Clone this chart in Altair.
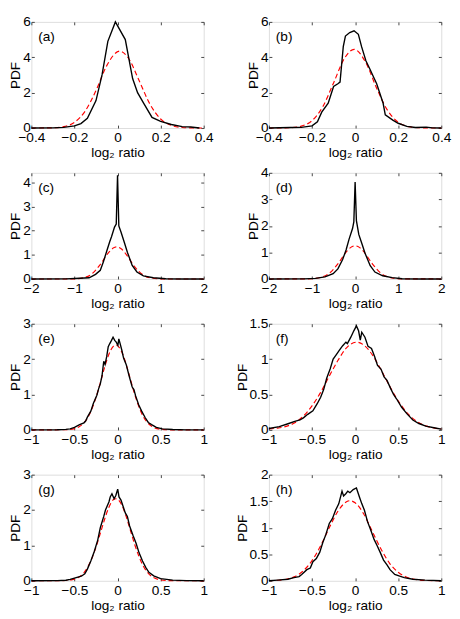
import altair as alt
import pandas as pd

FONT = "Liberation Sans"
W, H = 177, 109

# ---------------- data ----------------
tags = ["(a)", "(b)", "(c)", "(d)", "(e)", "(f)", "(g)", "(h)"]

a_bx = [-0.4, -0.3, -0.25, -0.2, -0.17, -0.14, -0.1, -0.072, -0.045, -0.01, 0.036, 0.07, 0.093, 0.123, 0.16, 0.2, 0.25, 0.3, 0.34, 0.38]
a_by = [0, 0.01, 0.04, 0.12, 0.25, 0.55, 1.55, 3.0, 4.9, 6.0, 5.0, 2.8, 2.0, 1.37, 0.6, 0.38, 0.2, 0.08, 0.06, 0.0]
a_rx = [-0.4, -0.3, -0.25, -0.2, -0.15, -0.1, -0.05, 0.01, 0.05, 0.1, 0.15, 0.2, 0.25, 0.3, 0.35, 0.4]
a_ry = [0, 0.015, 0.08, 0.32, 0.96, 2.12, 3.53, 4.35, 3.96, 2.69, 1.36, 0.51, 0.145, 0.03, 0.005, 0]

b_bx = [-0.4, -0.3, -0.25, -0.2, -0.175, -0.155, -0.125, -0.1, -0.08, -0.07, -0.055, -0.045, -0.025, -0.005, 0.015, 0.03, 0.05, 0.07, 0.1, 0.13, 0.14, 0.175, 0.2, 0.24, 0.28, 0.33, 0.36, 0.4]
b_by = [0, 0.03, 0.04, 0.12, 0.35, 0.9, 1.4, 2.35, 2.5, 2.6, 4.6, 5.2, 5.4, 5.5, 5.3, 4.6, 3.8, 3.3, 2.5, 1.4, 0.75, 0.45, 0.27, 0.09, 0.03, 0.05, 0.01, 0]
b_rx = [-0.4, -0.3, -0.25, -0.2, -0.15, -0.1, -0.05, -0.005, 0.05, 0.1, 0.15, 0.2, 0.25, 0.3, 0.4]
b_ry = [0, 0.02, 0.11, 0.42, 1.21, 2.55, 3.93, 4.45, 3.69, 2.25, 1.01, 0.33, 0.08, 0.015, 0]

c_bx = [-2, -1.2, -0.88, -0.66, -0.51, -0.4, -0.33, -0.25, -0.18, -0.14, -0.07, -0.03, 0, 0.03, 0.08, 0.16, 0.23, 0.34, 0.45, 0.6, 0.83, 1.12, 1.5, 2]
c_by = [0, 0.005, 0.03, 0.05, 0.19, 0.36, 0.7, 1.16, 1.55, 1.75, 2.15, 2.28, 4.3, 2.2, 1.95, 1.5, 1.1, 0.56, 0.29, 0.13, 0.05, 0.01, 0.0, 0]
c_rx = [-2, -1.2, -1.0, -0.8, -0.6, -0.4, -0.2, -0.1, -0.02, 0.1, 0.2, 0.4, 0.6, 0.8, 1.0, 1.2, 2]
c_ry = [0, 0.0, 0.006, 0.045, 0.205, 0.6, 1.11, 1.28, 1.33, 1.23, 1.02, 0.5, 0.157, 0.032, 0.004, 0, 0]

d_bx = [-2, -1.2, -0.92, -0.7, -0.51, -0.4, -0.29, -0.21, -0.14, -0.06, -0.03, 0, 0.03, 0.085, 0.16, 0.23, 0.35, 0.46, 0.64, 0.86, 1.09, 1.5, 2]
d_by = [0, 0.005, 0.02, 0.08, 0.2, 0.38, 0.73, 1.09, 1.5, 1.9, 2.15, 3.65, 2.2, 1.68, 1.32, 0.97, 0.5, 0.26, 0.12, 0.05, 0.01, 0, 0]
d_rx = [-2, -1.2, -1.0, -0.8, -0.6, -0.4, -0.2, -0.1, 0, 0.1, 0.2, 0.4, 0.6, 0.8, 1.0, 1.2, 2]
d_ry = [0, 0.001, 0.01, 0.055, 0.215, 0.57, 1.03, 1.19, 1.25, 1.19, 1.03, 0.57, 0.215, 0.055, 0.01, 0.001, 0]

e_bx = [-1, -0.7, -0.6, -0.55, -0.5, -0.44, -0.39, -0.37, -0.35, -0.31, -0.28, -0.24, -0.22, -0.2, -0.18, -0.16, -0.145, -0.126, -0.108, -0.09, -0.07, -0.052, -0.033, -0.015, 0.004, 0.015, 0.03, 0.05, 0.07, 0.1, 0.134, 0.17, 0.19, 0.21, 0.245, 0.28, 0.32, 0.357, 0.395, 0.45, 0.52, 0.64, 0.8, 1]
e_by = [0, 0.005, 0.015, 0.03, 0.07, 0.15, 0.2, 0.25, 0.36, 0.53, 0.75, 0.98, 1.16, 1.3, 1.53, 1.94, 1.85, 2.07, 2.35, 2.44, 2.53, 2.62, 2.53, 2.48, 2.39, 2.57, 2.44, 2.25, 2.03, 1.85, 1.53, 1.21, 1.14, 0.96, 0.71, 0.53, 0.35, 0.21, 0.15, 0.07, 0.03, 0.01, 0.0, 0]
e_rx = [-1, -0.6, -0.5, -0.45, -0.4, -0.35, -0.3, -0.25, -0.2, -0.15, -0.1, -0.05, -0.02, 0.05, 0.1, 0.15, 0.2, 0.25, 0.3, 0.35, 0.4, 0.5, 0.6, 1]
e_ry = [0, 0.005, 0.037, 0.084, 0.175, 0.33, 0.58, 0.92, 1.33, 1.77, 2.14, 2.36, 2.4, 2.2, 1.85, 1.42, 1.0, 0.64, 0.37, 0.2, 0.098, 0.018, 0.002, 0]

f_bx = [-1, -0.88, -0.77, -0.7, -0.64, -0.6, -0.55, -0.49, -0.44, -0.4, -0.365, -0.33, -0.29, -0.255, -0.22, -0.18, -0.144, -0.107, -0.09, -0.05, -0.015, 0.015, 0.04, 0.06, 0.077, 0.114, 0.15, 0.19, 0.225, 0.26, 0.3, 0.336, 0.37, 0.41, 0.446, 0.48, 0.54, 0.6, 0.67, 0.74, 0.82, 0.93, 1.0]
f_by = [0.02, 0.045, 0.09, 0.12, 0.14, 0.17, 0.22, 0.27, 0.37, 0.46, 0.57, 0.73, 0.86, 1.0, 1.06, 1.13, 1.19, 1.24, 1.22, 1.31, 1.40, 1.47, 1.4, 1.27, 1.38, 1.31, 1.18, 1.15, 1.04, 0.91, 0.86, 0.75, 0.7, 0.59, 0.5, 0.44, 0.32, 0.23, 0.14, 0.09, 0.054, 0.027, 0.01]
f_rx = [-1, -0.9, -0.8, -0.7, -0.6, -0.5, -0.4, -0.3, -0.2, -0.1, 0.02, 0.1, 0.2, 0.3, 0.4, 0.5, 0.6, 0.7, 0.8, 0.9, 1.0]
f_ry = [0.015, 0.025, 0.05, 0.1, 0.195, 0.34, 0.53, 0.76, 0.98, 1.16, 1.24, 1.2, 1.06, 0.85, 0.62, 0.41, 0.245, 0.134, 0.066, 0.03, 0.012]

g_bx = [-1, -0.7, -0.6, -0.55, -0.48, -0.42, -0.38, -0.35, -0.31, -0.27, -0.23, -0.2, -0.16, -0.14, -0.1, -0.085, -0.065, -0.04, -0.02, 0.002, 0.017, 0.04, 0.065, 0.09, 0.114, 0.14, 0.18, 0.215, 0.25, 0.29, 0.327, 0.364, 0.42, 0.5, 0.57, 0.64, 0.8, 1]
g_by = [0, 0.005, 0.015, 0.04, 0.09, 0.13, 0.2, 0.33, 0.56, 0.83, 1.15, 1.5, 1.82, 2.0, 2.23, 2.37, 2.46, 2.32, 2.41, 2.59, 2.37, 2.28, 2.1, 1.92, 1.82, 1.55, 1.28, 1.06, 0.79, 0.56, 0.38, 0.24, 0.14, 0.06, 0.04, 0.02, 0.005, 0]
g_rx = [-1, -0.6, -0.5, -0.45, -0.4, -0.35, -0.3, -0.25, -0.2, -0.15, -0.1, -0.05, -0.02, 0.05, 0.1, 0.15, 0.2, 0.25, 0.3, 0.35, 0.4, 0.5, 0.6, 1]
g_ry = [0, 0.008, 0.047, 0.1, 0.2, 0.37, 0.62, 0.95, 1.34, 1.74, 2.08, 2.29, 2.32, 2.14, 1.82, 1.42, 1.02, 0.68, 0.41, 0.23, 0.118, 0.024, 0.004, 0]

h_bx = [-1, -0.9, -0.78, -0.71, -0.65, -0.62, -0.56, -0.52, -0.49, -0.45, -0.41, -0.375, -0.34, -0.3, -0.264, -0.227, -0.19, -0.152, -0.134, -0.108, -0.085, -0.06, -0.022, 0.015, 0.052, 0.078, 0.108, 0.145, 0.18, 0.22, 0.256, 0.29, 0.33, 0.37, 0.405, 0.46, 0.517, 0.57, 0.67, 0.81, 1]
h_by = [0, 0.012, 0.03, 0.06, 0.08, 0.12, 0.21, 0.24, 0.36, 0.42, 0.54, 0.72, 0.87, 1.08, 1.17, 1.33, 1.45, 1.69, 1.6, 1.64, 1.69, 1.66, 1.72, 1.75, 1.57, 1.45, 1.33, 1.11, 0.96, 0.78, 0.66, 0.54, 0.39, 0.3, 0.21, 0.12, 0.09, 0.06, 0.03, 0.012, 0]
h_rx = [-1, -0.9, -0.8, -0.7, -0.6, -0.5, -0.4, -0.3, -0.2, -0.1, -0.06, 0, 0.1, 0.2, 0.3, 0.4, 0.5, 0.6, 0.7, 0.8, 1]
h_ry = [0.003, 0.01, 0.03, 0.08, 0.19, 0.38, 0.66, 1.0, 1.31, 1.49, 1.51, 1.47, 1.26, 0.93, 0.6, 0.33, 0.16, 0.066, 0.024, 0.008, 0.001]

x_domains = [[-0.4, 0.4], [-0.4, 0.4], [-2, 2], [-2, 2], [-1, 1], [-1, 1], [-1, 1], [-1, 1]]
x_ticks = [[-0.4, -0.2, 0, 0.2, 0.4], [-0.4, -0.2, 0, 0.2, 0.4],
           [-2, -1, 0, 1, 2], [-2, -1, 0, 1, 2],
           [-1, -0.5, 0, 0.5, 1], [-1, -0.5, 0, 0.5, 1],
           [-1, -0.5, 0, 0.5, 1], [-1, -0.5, 0, 0.5, 1]]
y_domains = [[0, 6], [0, 6], [0, 4.4], [0, 4], [0, 3], [0, 1.5], [0, 3], [0, 2]]
y_ticks = [[0, 2, 4, 6], [0, 2, 4, 6], [0, 1, 2, 3, 4], [0, 1, 2, 3, 4],
           [0, 1, 2, 3], [0, 0.5, 1, 1.5], [0, 1, 2, 3], [0, 0.5, 1, 1.5, 2]]

black_x = [a_bx, b_bx, c_bx, d_bx, e_bx, f_bx, g_bx, h_bx]
black_y = [a_by, b_by, c_by, d_by, e_by, f_by, g_by, h_by]
red_x = [a_rx, b_rx, c_rx, d_rx, e_rx, f_rx, g_rx, h_rx]
red_y = [a_ry, b_ry, c_ry, d_ry, e_ry, f_ry, g_ry, h_ry]

TICK_COLOR = "#444444"


def outer_axis(orient, values, title, label_pad, title_pad):
    return alt.Axis(
        orient=orient, values=values, title=title, format="~g",
        domain=False, grid=False, ticks=True, tickSize=3, offset=-3,
        tickColor=TICK_COLOR, tickWidth=1,
        labelFont=FONT, labelFontSize=14, labelColor="black",
        labelPadding=label_pad, labelFlush=False, labelOverlap=False,
        titleFont=FONT, titleFontSize=14, titleFontWeight="normal",
        titleColor="black", titlePadding=title_pad, minExtent=0,
    )


def inner_axis(orient, values):
    return alt.Axis(
        orient=orient, values=values, title=None, labels=False,
        domain=False, grid=False, ticks=True, tickSize=3, offset=-3,
        tickColor=TICK_COLOR, tickWidth=1, minExtent=0, maxExtent=0,
    )


def make_panel(i):
    xs = alt.Scale(domain=x_domains[i], nice=False, zero=False)
    ys = alt.Scale(domain=y_domains[i], nice=False, zero=False)
    black = pd.DataFrame({"x": black_x[i], "y": black_y[i]})
    red = pd.DataFrame({"x": red_x[i], "y": red_y[i]})
    red_line = alt.Chart(red).mark_line(
        color="#ff0000", strokeWidth=1.2, strokeDash=[5, 3], interpolate="monotone"
    ).encode(
        x=alt.X("x:Q", scale=xs, axis=inner_axis("top", x_ticks[i])),
        y=alt.Y("y:Q", scale=ys, axis=inner_axis("right", y_ticks[i])),
    )
    black_line = alt.Chart(black).mark_line(
        color="black", strokeWidth=1.4
    ).encode(
        x=alt.X("x:Q", scale=xs,
                axis=outer_axis("bottom", x_ticks[i], "log₂ ratio", 3, 1)),
        y=alt.Y("y:Q", scale=ys,
                axis=outer_axis("left", y_ticks[i], "PDF", 1, 0)),
    )
    label = alt.Chart(pd.DataFrame({"t": [tags[i]]})).mark_text(
        align="left", baseline="middle", fontSize=14, font=FONT, color="black"
    ).encode(x=alt.value(7), y=alt.value(16), text="t:N")
    return alt.layer(red_line, black_line, label).resolve_axis(
        x="independent", y="independent"
    ).properties(width=W, height=H)


panels = [make_panel(i) for i in range(8)]

chart = alt.concat(
    *panels,
    columns=2,
    spacing={"row": 46, "column": 67},
    bounds="flush",
    padding={"top": -2, "left": 0, "right": 0, "bottom": 0},
).configure_view(
    stroke="#444444", strokeWidth=1
).configure(background="white")

chart.save("out.html", embed_options={"renderer": "svg", "actions": False})
